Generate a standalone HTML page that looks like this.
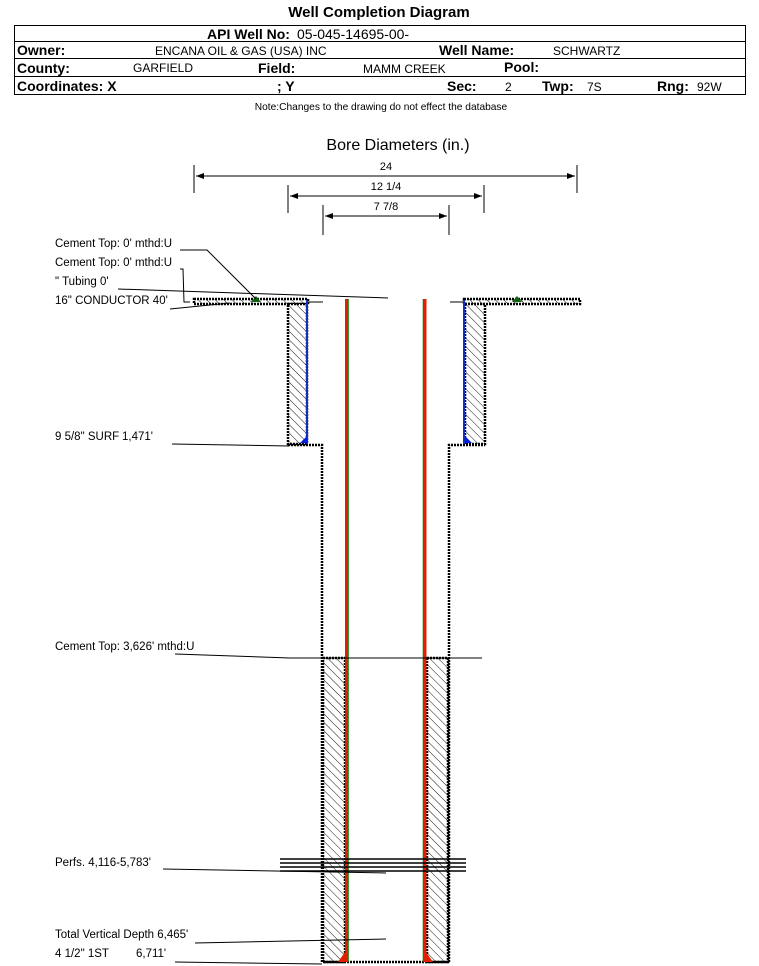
<!DOCTYPE html>
<html><head><style>
html,body{margin:0;padding:0;background:#fff;}
svg{display:block;font-family:"Liberation Sans",Arial,sans-serif;}
</style></head><body>
<svg width="759" height="966" viewBox="0 0 759 966" xmlns="http://www.w3.org/2000/svg" xml:space="preserve">
<defs>
<pattern id="h" width="6" height="6" patternUnits="userSpaceOnUse" patternTransform="rotate(-45)">
<rect width="6" height="6" fill="#fff"/><line x1="0" y1="0" x2="0" y2="6" stroke="#000" stroke-width="0.9"/>
</pattern>
<marker id="a" markerWidth="8" markerHeight="6" refX="8" refY="3" orient="auto"><path d="M0,0 L8,3 L0,6z" fill="#000"/></marker>
<marker id="b" markerWidth="8" markerHeight="6" refX="0" refY="3" orient="auto"><path d="M8,0 L0,3 L8,6z" fill="#000"/></marker>
</defs>
<text x="379" y="17" font-size="15" font-weight="bold" text-anchor="middle">Well Completion Diagram</text>
<rect x="14.5" y="25.5" width="731" height="69" fill="none" stroke="#000"/>
<line x1="14" y1="41.5" x2="746" y2="41.5" stroke="#000"/>
<line x1="14" y1="58.5" x2="746" y2="58.5" stroke="#000"/>
<line x1="14" y1="76.5" x2="746" y2="76.5" stroke="#000"/>
<g font-size="14" font-weight="bold">
<text x="207" y="39">API Well No:</text>
<text x="17" y="55">Owner:</text>
<text x="439" y="55">Well Name:</text>
<text x="17" y="73">County:</text>
<text x="258" y="73">Field:</text>
<text x="504" y="72">Pool:</text>
<text x="17" y="91">Coordinates: X</text>
<text x="277" y="91">; Y</text>
<text x="447" y="91">Sec:</text>
<text x="542" y="91">Twp:</text>
<text x="657" y="91">Rng:</text>
</g>
<g font-size="12">
<text x="297" y="39" font-size="14">05-045-14695-00-</text>
<text x="155" y="55">ENCANA OIL &amp; GAS (USA) INC</text>
<text x="553" y="55">SCHWARTZ</text>
<text x="133" y="72">GARFIELD</text>
<text x="363" y="73">MAMM CREEK</text>
<text x="505" y="91">2</text>
<text x="587" y="91">7S</text>
<text x="697" y="91">92W</text>
</g>
<text x="381" y="110" font-size="10.2" text-anchor="middle">Note:Changes to the drawing do not effect the database</text>
<text x="398" y="150" font-size="16" text-anchor="middle">Bore Diameters (in.)</text>
<g stroke="#000" stroke-width="1">
<line x1="194" y1="165" x2="194" y2="193"/><line x1="577" y1="165" x2="577" y2="193"/>
<line x1="196" y1="176" x2="575" y2="176" marker-start="url(#b)" marker-end="url(#a)"/>
<line x1="288" y1="185" x2="288" y2="213"/><line x1="484" y1="185" x2="484" y2="213"/>
<line x1="290" y1="196" x2="482" y2="196" marker-start="url(#b)" marker-end="url(#a)"/>
<line x1="323" y1="205" x2="323" y2="235"/><line x1="449" y1="205" x2="449" y2="235"/>
<line x1="325" y1="216" x2="447" y2="216" marker-start="url(#b)" marker-end="url(#a)"/>
</g>
<g font-size="11" text-anchor="middle"><text x="386" y="170">24</text><text x="386" y="190">12 1/4</text><text x="386" y="210">7 7/8</text></g>
<g stroke="#000" stroke-width="2.5" stroke-dasharray="2,1">
<rect x="194" y="299" width="114" height="5" fill="url(#h)"/>
<rect x="464" y="299" width="116" height="5" fill="url(#h)"/>
<rect x="288" y="304" width="19" height="140" fill="url(#h)"/>
<rect x="465" y="304" width="20" height="140" fill="url(#h)"/>
<rect x="323" y="658" width="22" height="304" fill="url(#h)"/>
<rect x="427" y="658" width="21" height="304" fill="url(#h)"/>
<path d="M288,445 H322 V962 H449 V445 H485" fill="none"/>
</g>
<line x1="307" y1="302" x2="323" y2="302" stroke="#000"/>
<line x1="450" y1="302" x2="464" y2="302" stroke="#000"/>
<line x1="307" y1="300" x2="307" y2="444" stroke="#1030c0" stroke-width="2"/>
<line x1="464" y1="300" x2="464" y2="444" stroke="#1030c0" stroke-width="2"/>
<path d="M300,443 L307,436 L307,443z" fill="#0020e0"/><path d="M465,436 L472,443 L465,443z" fill="#0020e0"/>
<rect x="345" y="299" width="2.5" height="663" fill="#e02000"/><rect x="347.5" y="299" width="1.3" height="663" fill="#108010"/>
<rect x="424" y="299" width="2.5" height="663" fill="#e02000"/><rect x="422.7" y="299" width="1.3" height="663" fill="#108010"/>
<path d="M338,962 L345,952 L345,962z" fill="#e02000"/><path d="M426,952 L433,962 L426,962z" fill="#e02000"/>
<path d="M251,302 L256,296 L261,302z" fill="#106010"/><path d="M512,302 L517,296 L522,302z" fill="#106010"/>
<g stroke="#000" stroke-width="1.5">
<line x1="280" y1="859" x2="466" y2="859"/><line x1="280" y1="863" x2="466" y2="863"/>
<line x1="280" y1="867" x2="466" y2="867"/><line x1="280" y1="871" x2="466" y2="871"/>
</g>
<g font-size="11.5">
<text x="55" y="247">Cement Top: 0' mthd:U</text>
<text x="55" y="266">Cement Top: 0' mthd:U</text>
<text x="55" y="285">" Tubing 0'</text>
<text x="55" y="304">16" CONDUCTOR  40'</text>
<text x="55" y="440">9 5/8" SURF</text><text x="122" y="440">1,471'</text>
<text x="55" y="650">Cement Top: 3,626' mthd:U</text>
<text x="55" y="866">Perfs. 4,116-5,783'</text>
<text x="55" y="938">Total Vertical Depth 6,465'</text>
<text x="55" y="957">4 1/2" 1ST</text><text x="136" y="957">6,711'</text>
</g>
<g stroke="#000" stroke-width="1" fill="none">
<path d="M180,250 H207 L256,299"/>
<path d="M180,269 H183 L184,302 H190"/>
<path d="M118,289 L388,298"/>
<path d="M170,309 L230,303"/>
<path d="M172,444 L289,446"/>
<path d="M175,654 L290,658 H482"/>
<path d="M163,869 L386,873"/>
<path d="M195,943 L386,939"/>
<path d="M175,962 L322,964"/>
</g>
</svg>
</body></html>
